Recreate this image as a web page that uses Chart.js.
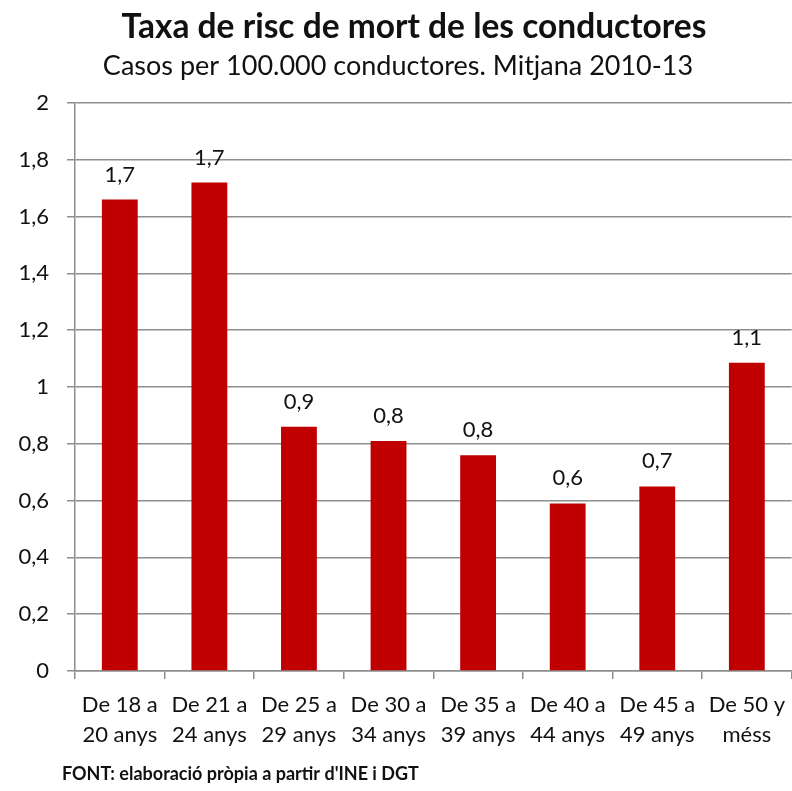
<!DOCTYPE html>
<html>
<head>
<meta charset="utf-8">
<script src="https://cdn.jsdelivr.net/npm/chart.js@4"></script>
<style>
  html, body { margin: 0; padding: 0; background: #fff; overflow: hidden; }
  #wrap { position: relative; width: 796px; height: 791px; }
</style>
</head>
<body>
<div id="wrap"><canvas id="chart"></canvas></div>
<script>
const categories = [
  ['De 18 a', '20 anys'], ['De 21 a', '24 anys'], ['De 25 a', '29 anys'], ['De 30 a', '34 anys'],
  ['De 35 a', '39 anys'], ['De 40 a', '44 anys'], ['De 45 a', '49 anys'], ['De 50 y', 'méss']
]
const riskRate = [1.66, 1.72, 0.86, 0.81, 0.76, 0.59, 0.65, 1.085]
const yTicks = [0, 0.2, 0.4, 0.6, 0.8, 1, 1.2, 1.4, 1.6, 1.8, 2]

const titleText = 'Taxa de risc de mort de les conductores'
const subtitleText = 'Casos per 100.000 conductores. Mitjana 2010-13'
const sourceText = "FONT: elaboració pròpia a partir d'INE i DGT"

const fontFamily = 'Lato, "Open Sans", sans-serif'
const gridColor = '#8e8e8e'

function fmt(v, digits) {
  return (digits == null ? String(Math.round(v * 10) / 10) : v.toFixed(digits)).replace('.', ',')
}

// títols, etiquetes de valor sobre cada barra i font a peu de gràfic
const extras = {
  id: 'extras',
  afterDatasetsDraw(chart) {
    const ctx = chart.ctx
    const meta = chart.getDatasetMeta(0)
    ctx.save()
    ctx.fillStyle = '#111'
    ctx.textBaseline = 'alphabetic'
    ctx.textAlign = 'center'

    ctx.font = 'bold 33.5px ' + fontFamily
    ctx.fillText(titleText, 414, 38)
    ctx.font = '27px ' + fontFamily
    ctx.fillText(subtitleText, 398, 75)

    ctx.font = '22px ' + fontFamily
    meta.data.forEach((bar, i) => {
      ctx.fillText(fmt(riskRate[i], 1), bar.x, bar.y - 18)
    })

    ctx.font = 'bold 18px ' + fontFamily
    ctx.textAlign = 'left'
    ctx.fillText(sourceText, 62, 780)
    ctx.restore()
  }
}

new Chart(document.getElementById('chart'), {
  type: 'bar',
  data: {
    labels: categories,
    datasets: [{
      data: riskRate,
      backgroundColor: '#C00000',
      borderWidth: 0,
      barPercentage: 0.4,
      categoryPercentage: 1
    }]
  },
  options: {
    responsive: true,
    maintainAspectRatio: false,
    animation: false,
    layout: { padding: { top: 103, right: 0, bottom: 0, left: 0 } },
    plugins: {
      legend: { display: false },
      tooltip: { enabled: false }
    },
    scales: {
      y: {
        min: 0,
        max: 2,
        afterBuildTicks: (scale) => { scale.ticks = yTicks.map(v => ({ value: v })) },
        afterFit: (scale) => { scale.width = 75 },
        border: { color: gridColor, width: 1.5 },
        grid: { color: gridColor, lineWidth: 1.5, tickLength: 8 },
        ticks: {
          color: '#111',
          padding: 18,
          font: { family: fontFamily, size: 22 },
          callback: (v) => fmt(v)
        }
      },
      x: {
        afterFit: (scale) => { scale.height = 120 },
        border: { color: gridColor, width: 1.5 },
        grid: { color: gridColor, lineWidth: 1.5, drawOnChartArea: false, tickLength: 8 },
        ticks: {
          color: '#111',
          padding: 11,
          maxRotation: 0,
          autoSkip: false,
          font: { family: fontFamily, size: 22, lineHeight: 1.36 }
        }
      }
    }
  },
  plugins: [extras]
})
</script>
</body>
</html>
